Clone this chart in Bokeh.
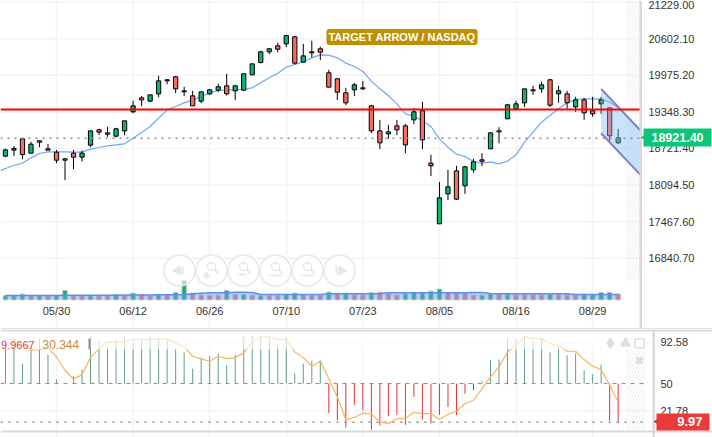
import math
from bokeh.plotting import figure
from bokeh.layouts import column
from bokeh.models import (Range1d, FixedTicker, Label, ColumnDataSource)
from bokeh.embed import file_html
from bokeh.resources import INLINE
from bokeh.core.properties import value

FONT = "Liberation Sans"
# ---------- data ----------
start_index = -6
open_ = [18589,18692,18886,18640,18852,18715,18657,18543,18640,18572,18778,19041,18989,18932,19023,19350,19590,19533,19658,19899,19950,19710,19624,19533,19658,19721,19796,19710,
         19721,19984,20196,20379,20482,20516,20637,20202,20379,20431,20019,19916,19676,19727,19761,19452,19023,18972,19109,19109,19212,19367,18469,17428,17942,18337,18080,
         18354,18526,18715,19023,19229,19401,19504,19727,19744,19899,19658,19658,19435,19555,19367,19487,19418,18818]
close = [18697,18720,18617,18795,18829,18692,18520,18520,18572,18640,19023,19001,18966,19058,19195,19452,19555,19641,19881,19881,19744,19693,19452,19693,19727,19779,19658,19796,
         20002,20173,20379,20431,20425,20659,20185,20310,20362,20373,19773,19687,19504,19813,19744,19023,18818,19006,19041,18783,19350,18869,18423,17874,18063,17851,18406,
         18492,18503,18989,19006,19470,19487,19744,19710,19813,19464,19710,19504,19555,19332,19315,19555,18938,18903]
high = [18715,18760,18903,18835,18852,18800,18697,18560,18697,18686,19023,19058,19092,19075,19195,19538,19624,19641,19967,19910,19967,19779,19710,19693,19738,19830,20002,19813,
        20002,20173,20396,20448,20534,20671,20654,20516,20568,20465,20070,19933,19761,19847,19881,19470,19212,19126,19212,19144,19418,19521,18612,18148,18354,18423,18423,
        18543,18640,18989,19086,19487,19538,19744,19796,19864,19916,19796,19710,19607,19590,19607,19607,19418,19058]
low = [18572,18589,18537,18640,18743,18692,18469,18177,18366,18497,18743,18949,18921,18909,18949,19327,19447,19515,19601,19824,19670,19618,19452,19498,19641,19687,19630,19550,
       19721,19984,20179,20339,20373,20459,20162,20202,20282,20236,19773,19550,19464,19618,19727,18983,18709,18886,18949,18640,19138,18709,18246,17428,17834,17839,17942,
       18303,18417,18715,18812,19229,19367,19430,19641,19676,19430,19504,19401,19350,19212,19264,19315,18852,18800]
price_ma = [18377,18429,18469,18560,18635,18663,18663,18663,18657,18657,18709,18737,18766,18783,18800,18898,18995,19098,19241,19384,19441,19504,19550,19613,19670,19716,19727,19727,
            19738,19761,19847,19933,20013,20116,20162,20208,20276,20328,20322,20276,20185,20127,20042,19876,19744,19630,19487,19315,19275,19195,19098,18886,18743,18623,18583,
            18497,18469,18492,18457,18503,18612,18829,19001,19172,19287,19401,19504,19561,19573,19573,19567,19515,19430]
price_ma_first = 18340
volume = [120,120,170,120,120,120,120,280,120,120,120,120,120,160,120,200,160,120,160,160,220,580,200,140,140,140,280,160,
          160,140,120,120,120,160,200,160,140,130,230,200,200,150,150,220,230,180,140,180,220,220,260,320,220,200,200,
          140,140,180,180,180,150,150,150,150,160,150,150,150,160,160,220,220,170]
volume_up = [1,1,1,0,1,0,1,1,0,0,1,0,0,1,0,1,0,0,1,0,1,1,0,0,0,0,1,0,
             1,0,1,0,0,1,1,0,0,0,1,0,1,0,0,1,0,0,0,1,1,1,1,1,0,0,0,
             0,1,1,0,1,0,0,0,0,1,0,0,0,1,1,1,1,0]
volume_ma = [130]*7+[135,135,140,140]+[140,140,140,145,145,145,145,150]+[150,150,160,180,200,210,210,210]+[230,230,220]+[160]*8+[180]*7+[210]*10+[220,220,190,180]+[180]*8+[160]*6
stoch_hist = [95.6,95.6,70.7,87,95.6,80,54.1,50.3,57.6,64.5,99,93.2,87.3,95.6,98.4,92.8,94.2,98.4,95.6,94.9,85.9,82.5,65.5,76.9,78.3,81.1,69,80,
              99,99.8,99,97.7,90.4,97.7,60.4,70.7,73.5,74.2,19.6,12,4.4,27.9,22.4,2.3,6.5,16.1,17.5,7.2,36.2,12.7,8.5,17.5,25.8,17.5,39.6,
              43.1,52.4,74.2,74.9,96.6,96.6,99,94.2,96.6,82.1,88.7,79.4,81.1,63.8,59.7,69.7,11.3,9.9]
stoch_line = [94.9,96.3,90.8,84.6,85.2,87,77.6,63.8,54.5,59.3,76.9,85.9,93.2,92.5,94.2,95.6,95.6,95.6,96.3,96.3,92.2,88,78.3,75.6,73.1,78.3,75.9,76.9,
              81.8,93.2,98.7,98.4,95.6,95.6,82.8,76.9,68,73.1,55.2,36.2,12.7,14.8,19.3,18.2,10.6,8.5,13.7,13.7,20.3,18.9,18.9,12.7,18.2,21.3,29.3,
              32.7,44.8,56.9,67.3,82.8,89.7,98.4,96.6,96.6,91.5,89.4,83.5,83.5,74.9,68,64.5,48.3,31]
price_ticks = [21229.0,20602.1,19975.2,19348.3,18721.4,18094.5,17467.6,16840.7]
date_ticks = [0,9,18,27,36,45,54,63]
date_labels = ["05/30","06/12","06/26","07/10","07/23","08/05","08/16","08/29"]
stoch_ticks = [92.58,50,21.78]
resistance = 19390
last_line = 18898
channel_top = [19744,19029]
channel_bot = [18983,18268]
channel_x = [64,68.62]
tag_title = "TARGET ARROW / NASDAQ"
last_price_text = "18921.40"
stoch_k_text, stoch_d_text, stoch_last_text = "9.9667", "30.344", "9.97"

assert all(len(a) == 73 for a in (open_,close,high,low,price_ma,volume,volume_up,volume_ma,stoch_hist,stoch_line))

# ---------- scales ----------
DX = 8.51
def ix(px): return (px-56)/DX
def py(px): return 21260-17.16*px
def sv(px): return 21.78+(410.3-px)*1.0366

idx = [start_index+k for k in range(73)]
GREEN, RED = "#0ab56f", "#fb6a5e"
src = ColumnDataSource(dict(x=idx,o=open_,c=close,h=high,l=low,
    top=[max(a,b) for a,b in zip(open_,close)], bot=[min(a,b) for a,b in zip(open_,close)],
    col=[GREEN if c>=o else RED for o,c in zip(open_,close)],
    vol=volume, vcol=[GREEN if u else RED for u in volume_up], vma=volume_ma, zero=[0]*73))

GRID = "#f3f3f3"
AX = "#333333"
SEP = "#d9d9d9"
X0, X1 = ix(0), ix(640)

def style_axis(a, standoff):
    a.axis_line_color=None; a.major_tick_line_color=None; a.minor_tick_line_color=None
    a.major_tick_out=0; a.major_tick_in=0; a.minor_tick_out=0; a.minor_tick_in=0
    a.major_label_text_font=FONT; a.major_label_text_font_size="11px"; a.major_label_text_color=AX
    a.major_label_standoff=standoff

p = figure(width=712,height=329,x_range=Range1d(ix(0),ix(712)),y_range=Range1d(py(329),py(0)),
           y_axis_location="right",x_axis_location="below",toolbar_location=None,output_backend="svg",
           min_border=0,outline_line_color=None)
p.extra_y_ranges = {"vol":Range1d((299.3-329)*30,299.3*30)}
p.xgrid.ticker=FixedTicker(ticks=date_ticks); p.ygrid.visible=False
p.xgrid.grid_line_color=GRID; p.xgrid.grid_line_width=1.5
p.segment(x0=[X0]*8,x1=[X1]*8,y0=price_ticks,y1=price_ticks,line_color=GRID,line_width=1.5,level="underlay")
ya=p.yaxis[0]; ya.ticker=FixedTicker(ticks=price_ticks)
ya.major_label_overrides={t:f"{t:.2f}" for t in price_ticks}
ya.fixed_location=ix(640); style_axis(ya,8)
xa=p.xaxis[0]; xa.ticker=FixedTicker(ticks=date_ticks); xa.major_label_overrides=dict(zip(date_ticks,date_labels))
xa.fixed_location=py(299.3); style_axis(xa,5)

# hatch zone
p.quad(left=ix(625),right=ix(640),bottom=py(280),top=py(0),fill_alpha=0,line_color=None,
       hatch_pattern="right_diagonal_line",hatch_color="#eeeeee",hatch_scale=6,hatch_weight=1)
# volume
p.vbar(x="x",top="vol",bottom="zero",width=0.52,source=src,fill_color="vcol",line_color="#c0c0c0",line_width=1,y_range_name="vol")
p.varea(x="x",y1="zero",y2="vma",source=src,fill_color="#6f9ef0",fill_alpha=0.5,y_range_name="vol")
p.line(x="x",y="vma",source=src,line_color="#5b8fe8",line_width=1.5,y_range_name="vol")
# candles
p.line(x=[X0]+idx,y=[price_ma_first]+price_ma,line_color="#6ea6fb",line_width=1.2)
p.segment(x0="x",x1="x",y0="l",y1="h",source=src,line_color="black",line_width=1)
p.vbar(x="x",top="top",bottom="bot",width=0.5,source=src,fill_color="col",line_color="black",line_width=1)
# channel
p.patch(x=channel_x+channel_x[::-1],y=channel_top+channel_bot[::-1],fill_color="#7fbff2",fill_alpha=0.42,line_color=None)
p.line(x=channel_x,y=channel_top,line_color="#7f82bf",line_width=2)
p.line(x=channel_x,y=channel_bot,line_color="#7f82bf",line_width=2)
# lines
p.line(x=[X0,X1],y=[last_line]*2,line_color="#8a8a8a",line_width=1.5,line_dash="2 5")
p.line(x=[X0,X1],y=[resistance]*2,line_color="#ff0000",line_width=2)
# zoom buttons
BTN = "#e6e6e6"
btn_px = [179,211,243,275,307,339]
p.scatter(x=[ix(b) for b in btn_px],y=[py(270)]*6,size=31,marker="circle",fill_color="white",fill_alpha=0.6,line_color=BTN,line_width=1.5)
p.scatter(x=[ix(177)],y=[py(270)],size=9,marker="triangle",angle=math.pi/2,fill_color=BTN,line_color=BTN)
p.segment(x0=[ix(182)],x1=[ix(182)],y0=[py(266)],y1=[py(274)],line_color=BTN,line_width=2)
p.scatter(x=[ix(341)],y=[py(270)],size=9,marker="triangle",angle=-math.pi/2,fill_color=BTN,line_color=BTN)
p.segment(x0=[ix(336)],x1=[ix(336)],y0=[py(266)],y1=[py(274)],line_color=BTN,line_width=2)
mag = btn_px[1:5]
p.scatter(x=[ix(m) for m in mag],y=[py(266)]*4,size=8,marker="circle",fill_color="white",line_color=BTN,line_width=1.5)
p.segment(x0=[ix(m+3) for m in mag],x1=[ix(m+7) for m in mag],y0=[py(269)]*4,y1=[py(273)]*4,line_color=BTN,line_width=2)
p.scatter(x=[ix(211-5)],y=[py(275)],size=7,marker="cross",line_color=BTN,line_width=2)
p.scatter(x=[ix(243-1)],y=[py(274)],size=8,marker="dash",line_color=BTN,line_width=2)
for m in (275,307):
    p.segment(x0=[ix(m-7)],x1=[ix(m+7)],y0=[py(275)],y1=[py(275)],line_color=BTN,line_width=1.5)
# separators
p.quad(left=[ix(639)],right=[ix(641.5)],bottom=[py(329)],top=[py(0)],fill_color=SEP,line_color=None)
p.quad(left=[ix(0)],right=[ix(712)],bottom=[py(329)],top=[py(327.8)],fill_color=SEP,line_color=None)
# labels
p.add_layout(Label(x=ix(401.5),y=py(36.5),text=tag_title,text_align="center",text_baseline="middle",text_color="white",
    text_font=FONT,text_font_style="bold",text_font_size="11px",background_fill_color="#bf8f00",padding=2,border_radius=3))
p.quad(left=[ix(643)],right=[ix(711)],bottom=[py(146)],top=[py(128)],fill_color="#0cc577",line_color=None,level="overlay")
p.scatter(x=[ix(643.5)],y=[py(137)],size=6,marker="triangle",angle=math.pi/2,fill_color="#0cc577",line_color=None,level="overlay")
p.text(x=[ix(677)],y=[py(136.8)],text=[last_price_text],text_align="center",text_baseline="middle",text_color="white",
       text_font=value(FONT),text_font_style="bold",text_font_size="12.5px",level="overlay")

# ---------- lower panel ----------
q = figure(width=712,height=108,x_range=Range1d(ix(0),ix(712)),y_range=Range1d(sv(437),sv(329)),
           y_axis_location="right",toolbar_location=None,output_backend="svg",
           min_border=0,outline_line_color=None)
q.xaxis.visible=False
q.xgrid.ticker=FixedTicker(ticks=date_ticks); q.ygrid.visible=False
q.xgrid.grid_line_color=GRID; q.xgrid.grid_line_width=1.5
grid_levels=[stoch_ticks[0],stoch_ticks[2]]
q.segment(x0=[X0]*2,x1=[ix(653)]*2,y0=grid_levels,y1=grid_levels,line_color=GRID,line_width=1.5,level="underlay")
qa=q.yaxis[0]; qa.ticker=FixedTicker(ticks=stoch_ticks); qa.major_label_overrides={92.58:"92.58",50:"50",21.78:"21.78"}
qa.fixed_location=ix(653); style_axis(qa,7)
q.quad(left=ix(625),right=ix(645),bottom=sv(431),top=sv(331),fill_alpha=0,line_color=None,
       hatch_pattern="right_diagonal_line",hatch_color="#eeeeee",hatch_scale=6,hatch_weight=1)
hist_col=["#5f9f7f" if v>=50 else "#e03434" for v in stoch_hist]
q.segment(x0=idx,x1=idx,y0=[50]*73,y1=stoch_hist,line_color=hist_col,line_width=1)
q.line(x=[X0,ix(644)],y=[50,50],line_color="#8a8a8a",line_width=1,line_dash="4 5")
q.line(x=[X0,ix(642)],y=[stoch_hist[-1]]*2,line_color="#8a8a8a",line_width=1.5,line_dash="2 6")
q.line(idx,stoch_line,line_color="#f7b45c",line_width=1.2)
q.quad(left=ix(0),right=ix(645),bottom=sv(349),top=sv(331),fill_color="white",fill_alpha=0.65,line_color=None)
ICON="#dedede"
q.scatter(x=[ix(610)],y=[sv(342.7)],size=11,marker="diamond",fill_color=ICON,line_color=ICON)
q.scatter(x=[ix(625)],y=[sv(342.7)],size=10,marker="triangle",fill_color=ICON,line_color=ICON)
q.scatter(x=[ix(639)],y=[sv(342.7)],size=9,marker="square",fill_color="white",line_color=ICON,line_width=1.5)
q.scatter(x=[ix(639)],y=[sv(360)],size=9,marker="x",line_color=ICON,line_width=3)
q.segment(x0=[ix(89)],x1=[ix(89)],y0=[sv(338)],y1=[sv(349)],line_color="#8c8c8c",line_width=2)
q.text(x=[ix(0.5)],y=[sv(344)],text=[stoch_k_text],text_align="left",text_baseline="middle",text_color="#e84040",
       text_font=value(FONT),text_font_size="11px")
q.text(x=[ix(42)],y=[sv(344)],text=[stoch_d_text],text_align="left",text_baseline="middle",text_color="#c98a3e",
       text_font=value(FONT),text_font_size="12px")
q.quad(left=[ix(0)],right=[ix(712)],bottom=[sv(432)],top=[sv(430)],fill_color=SEP,line_color=None)
q.quad(left=[ix(0)],right=[ix(712)],bottom=[sv(331)],top=[sv(329)],fill_color=SEP,line_color=None)
q.quad(left=[ix(652)],right=[ix(654.5)],bottom=[sv(437)],top=[sv(329)],fill_color=SEP,line_color=None)
q.quad(left=[ix(656)],right=[ix(709)],bottom=[sv(430)],top=[sv(413)],fill_color="#e93b3b",line_color=None,level="overlay")
q.scatter(x=[ix(656)],y=[sv(421)],size=6,marker="triangle",angle=math.pi/2,fill_color="#e93b3b",line_color=None,level="overlay")
q.text(x=[ix(702)],y=[sv(421)],text=[stoch_last_text],text_align="right",text_baseline="middle",text_color="white",
       text_font=value(FONT),text_font_style="bold",text_font_size="13px",level="overlay")

root = column(p,q,spacing=0,styles={"position":"absolute","left":"0px","top":"0px"})
open("out.html","w").write(file_html(root,INLINE))
